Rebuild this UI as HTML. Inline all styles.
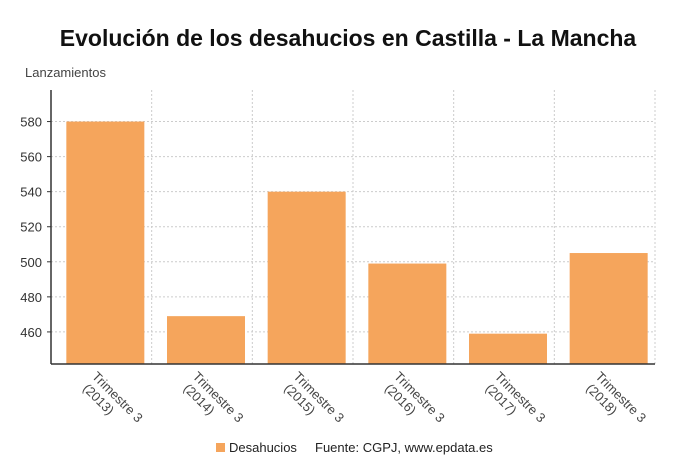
<!DOCTYPE html>
<html><head><meta charset="utf-8"><style>
body{margin:0;background:#fff;font-family:"Liberation Sans",sans-serif;}
</style></head><body>
<svg width="696" height="469" xmlns="http://www.w3.org/2000/svg" font-family="Liberation Sans, sans-serif">
<text x="348" y="46" text-anchor="middle" font-size="23" font-weight="bold" fill="#111">Evolución de los desahucios en Castilla - La Mancha</text>
<text x="25" y="77" font-size="13" fill="#444">Lanzamientos</text>
<g id="grid"></g>
<g id="bars"></g>
<g id="axes"></g>
<g>
<rect x="216" y="443" width="9" height="9" fill="#f5a55c"/>
<text x="229" y="452" font-size="13" fill="#222">Desahucios</text>
<text x="315" y="452" font-size="13" fill="#222">Fuente: CGPJ, www.epdata.es</text>
</g>
</svg>
<script>
const categories=["2013","2014","2015","2016","2017","2018"];
const values=[580,469,540,499,459,505];
const yTicks=[460,480,500,520,540,560,580];
const NS="http://www.w3.org/2000/svg";
const L=51,R=655,T=90,B=364,yMin=441.7,yMax=598;
const y=v=>B-(v-yMin)/(yMax-yMin)*(B-T);
const step=(R-L)/categories.length;
const cx=i=>L+step*(i+0.5)+4;
function mk(tag,attrs,parent){const e=document.createElementNS(NS,tag);for(const k in attrs)e.setAttribute(k,attrs[k]);parent.appendChild(e);return e;}
const grid=document.getElementById('grid'),bars=document.getElementById('bars'),axes=document.getElementById('axes');
yTicks.forEach(t=>{
 const l=mk('line',{x1:L,x2:R,y1:y(t),y2:y(t),stroke:'#ccc','stroke-dasharray':'2,2'},grid);
 
 
 const tk=mk('line',{x1:L-4,x2:L,y1:y(t),y2:y(t),stroke:'#333'},axes);
 
 
 const tx=mk('text',{x:L-9,y:y(t)+5,'text-anchor':'end','font-size':13,fill:'#333'},axes);
 tx.textContent=t;
 
 
});
for(let i=1;i<=categories.length;i++){
 const gx=L+step*i;
 const l=mk('line',{x1:gx,x2:gx,y1:T,y2:B,stroke:'#ccc','stroke-dasharray':'2,2'},grid);
 
 
}
values.forEach((v,i)=>{
 const r=mk('rect',{x:cx(i)-39,width:78,y:y(v),height:B-y(v),fill:'#f5a55c'},bars);
 
 
 const g=mk('g',{transform:`translate(${cx(i)-7},${B+6}) rotate(45)`},axes);
 
 
 const t1=mk('text',{x:0,y:10,'font-size':13,fill:'#444'},g);t1.textContent='Trimestre 3';
 const t2=mk('text',{x:2,y:25,'font-size':13,fill:'#444'},g);t2.textContent='('+categories[i]+')';
});
const ya=mk('line',{x1:L,x2:L,y1:T,y2:B,stroke:'#333','stroke-width':1.5},axes);


const xa=mk('line',{x1:L,x2:R,y1:B,y2:B,stroke:'#333','stroke-width':1.5},axes);


</script>
</body></html>
